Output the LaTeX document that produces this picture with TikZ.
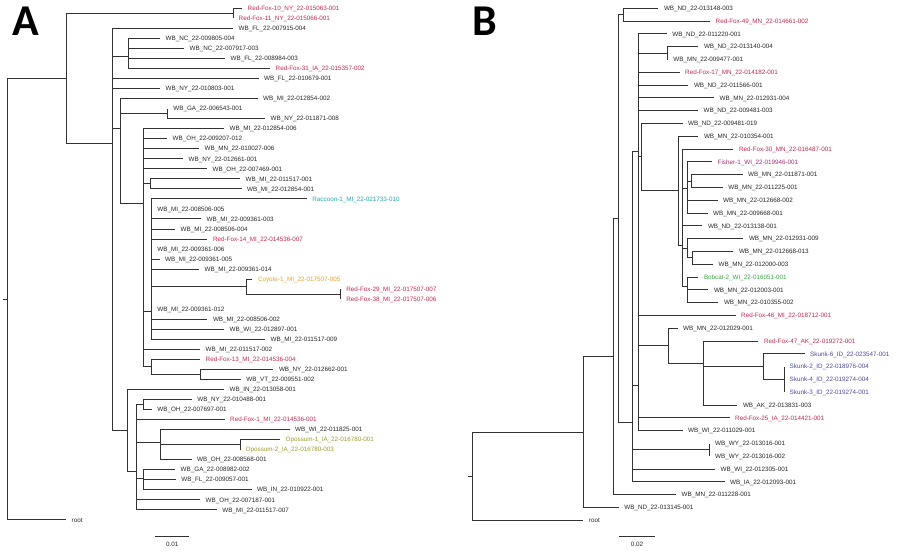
\documentclass[tikz,border=0pt]{standalone}
\usepackage{fontspec}
\setmainfont{Liberation Sans}
\newfontfamily\panelfont{Carlito}
\usetikzlibrary{calc,positioning}

\definecolor{foxred}{RGB}{194,40,78}
\definecolor{raccoon}{RGB}{30,170,175}
\definecolor{coyote}{RGB}{232,160,40}
\definecolor{opossum}{RGB}{155,155,45}
\definecolor{fisher}{RGB}{165,45,120}
\definecolor{bobcat}{RGB}{60,165,70}
\definecolor{skunk}{RGB}{75,75,150}
\definecolor{branch}{RGB}{50,50,50}

\begin{document}
\begin{tikzpicture}[x=1pt,y=-1pt,
  leaf/.style={anchor=west, inner xsep=5.5pt, inner ysep=0pt, text height=4.5pt, text depth=0pt,
    font=\fontsize{6.3}{7}\selectfont, text=black!85},
  br/.style={line width=0.95pt, draw=branch},
  panel/.style={anchor=base west, inner sep=0pt, font=\panelfont\bfseries\fontsize{44}{44}\selectfont}]
  \useasboundingbox (0,0) rectangle (900,552);

  % panel A
  \node[panel] (pA) at (12,35) {A};
  \node[leaf, foxred] (a1) at (242,8.3) {Red-Fox-10\_NY\_22-015063-001};
  \node[leaf, foxred] (a2) at (233,18.3) {Red-Fox-11\_NY\_22-015066-001};
  \node[leaf] (a3) at (233,28.4) {WB\_FL\_22-007915-004};
  \node[leaf] (a4) at (160,38.4) {WB\_NC\_22-009805-004};
  \node[leaf] (a5) at (184,48.4) {WB\_NC\_22-007917-003};
  \node[leaf] (a6) at (225,58.5) {WB\_FL\_22-008984-003};
  \node[leaf, foxred] (a7) at (270,68.5) {Red-Fox-31\_IA\_22-015357-002};
  \node[leaf] (a8) at (258.5,78.5) {WB\_FL\_22-010679-001};
  \node[leaf] (a9) at (160,88.5) {WB\_NY\_22-010803-001};
  \node[leaf] (a10) at (257.5,98.6) {WB\_MI\_22-012854-002};
  \node[leaf] (a11) at (167.7,108.6) {WB\_GA\_22-006543-001};
  \node[leaf] (a12) at (265,118.6) {WB\_NY\_22-011871-008};
  \node[leaf] (a13) at (224,128.7) {WB\_MI\_22-012854-006};
  \node[leaf] (a14) at (167,138.7) {WB\_OH\_22-009207-012};
  \node[leaf] (a15) at (199,148.7) {WB\_MN\_22-010027-006};
  \node[leaf] (a16) at (183,158.8) {WB\_NY\_22-012661-001};
  \node[leaf] (a17) at (207,168.8) {WB\_OH\_22-007469-001};
  \node[leaf] (a18) at (240,178.8) {WB\_MI\_22-011517-001};
  \node[leaf] (a19) at (241.5,188.8) {WB\_MI\_22-012854-001};
  \node[leaf, raccoon] (a20) at (306.7,198.9) {Raccoon-1\_MI\_22-021733-010};
  \node[leaf] (a21) at (151.7,208.9) {WB\_MI\_22-008506-005};
  \node[leaf] (a22) at (201,218.9) {WB\_MI\_22-009361-003};
  \node[leaf] (a23) at (175,229) {WB\_MI\_22-008506-004};
  \node[leaf, foxred] (a24) at (207.3,239) {Red-Fox-14\_MI\_22-014536-007};
  \node[leaf] (a25) at (151.7,249) {WB\_MI\_22-009361-006};
  \node[leaf] (a26) at (159.5,259.1) {WB\_MI\_22-009361-005};
  \node[leaf] (a27) at (199,269.1) {WB\_MI\_22-009361-014};
  \node[leaf, coyote] (a28) at (252.3,279.1) {Coyote-1\_MI\_22-017507-005};
  \node[leaf, foxred] (a29) at (340.7,289.1) {Red-Fox-29\_MI\_22-017507-007};
  \node[leaf, foxred] (a30) at (340.7,299.2) {Red-Fox-38\_MI\_22-017507-006};
  \node[leaf] (a31) at (151.7,309.2) {WB\_MI\_22-009361-012};
  \node[leaf] (a32) at (207.3,319.2) {WB\_MI\_22-008506-002};
  \node[leaf] (a33) at (224,329.3) {WB\_WI\_22-012897-001};
  \node[leaf] (a34) at (265,339.3) {WB\_MI\_22-011517-009};
  \node[leaf] (a35) at (200,349.3) {WB\_MI\_22-011517-002};
  \node[leaf, foxred] (a36) at (200,359.4) {Red-Fox-13\_MI\_22-014536-004};
  \node[leaf] (a37) at (273.3,369.4) {WB\_NY\_22-012662-001};
  \node[leaf] (a38) at (240.7,379.4) {WB\_VT\_22-009551-002};
  \node[leaf] (a39) at (224,389.4) {WB\_IN\_22-013058-001};
  \node[leaf] (a40) at (191.7,399.5) {WB\_NY\_22-010488-001};
  \node[leaf] (a41) at (151.7,409.5) {WB\_OH\_22-007697-001};
  \node[leaf, foxred] (a42) at (224.5,419.5) {Red-Fox-1\_MI\_22-014536-001};
  \node[leaf] (a43) at (289.5,429.6) {WB\_WI\_22-011825-001};
  \node[leaf, opossum] (a44) at (280,439.6) {Opossum-1\_IA\_22-016780-001};
  \node[leaf, opossum] (a45) at (240,449.6) {Opossum-2\_IA\_22-016780-003};
  \node[leaf] (a46) at (191.5,459.7) {WB\_OH\_22-008568-001};
  \node[leaf] (a47) at (175,469.7) {WB\_GA\_22-008982-002};
  \node[leaf] (a48) at (175.7,479.7) {WB\_FL\_22-009057-001};
  \node[leaf] (a49) at (251.5,489.7) {WB\_IN\_22-010922-001};
  \node[leaf] (a50) at (200,499.8) {WB\_OH\_22-007187-001};
  \node[leaf] (a51) at (216.7,509.8) {WB\_MI\_22-011517-007};
  \node[leaf] (a52) at (66,519.8) {root};

  \coordinate (iastub) at (3,299);
  \coordinate (ia0) at (7,299);
  \coordinate (iaT) at (66.5,78.4);
  \coordinate (iaRF) at (233,13.3);
  \coordinate (iaM) at (112,143.3);
  \coordinate (iaNC) at (128,56.7);
  \coordinate (iaB) at (120,128.3);
  \coordinate (iaGA) at (167.7,113.6);
  \coordinate (iaC) at (143.3,203.3);
  \coordinate (iaMI) at (150.5,183.8);
  \coordinate (iaR) at (151.7,311.7);
  \coordinate (iaCoy) at (246.7,286.7);
  \coordinate (iaRF29) at (340.7,294.2);
  \coordinate (iaRF13) at (151.7,366.9);
  \coordinate (iaNV) at (200,374.4);
  \coordinate (iaL) at (127.5,430);
  \coordinate (iaL2) at (136,471);
  \coordinate (iaNO) at (143.3,404.5);
  \coordinate (iaWI) at (160,442);
  \coordinate (iaOp) at (240,444.6);
  \coordinate (iaGF) at (143.3,478);

  \draw[br] (iastub) -- (ia0);
  \foreach \c in {iaT,a52} \draw[br] (ia0) |- (\c);
  \foreach \c in {iaRF,iaM} \draw[br] (iaT) |- (\c);
  \foreach \c in {a1,a2} \draw[br] (iaRF) |- (\c);
  \foreach \c in {a3,iaNC,a8,a9,iaB,iaL} \draw[br] (iaM) |- (\c);
  \foreach \c in {a4,a5,a6,a7} \draw[br] (iaNC) |- (\c);
  \foreach \c in {a10,iaGA,iaC} \draw[br] (iaB) |- (\c);
  \foreach \c in {a11,a12} \draw[br] (iaGA) |- (\c);
  \foreach \c in {a13,a14,a15,a16,a17,iaMI,iaR,a35,iaRF13} \draw[br] (iaC) |- (\c);
  \foreach \c in {a18,a19} \draw[br] (iaMI) |- (\c);
  \foreach \c in {a20,a21,a22,a23,a24,a25,a26,a27,iaCoy,a31,a32,a33,a34} \draw[br] (iaR) |- (\c);
  \foreach \c in {a28,iaRF29} \draw[br] (iaCoy) |- (\c);
  \foreach \c in {a29,a30} \draw[br] (iaRF29) |- (\c);
  \foreach \c in {a36,iaNV} \draw[br] (iaRF13) |- (\c);
  \foreach \c in {a37,a38} \draw[br] (iaNV) |- (\c);
  \foreach \c in {a39,iaL2} \draw[br] (iaL) |- (\c);
  \foreach \c in {iaNO,a42,iaWI,iaGF,a50,a51} \draw[br] (iaL2) |- (\c);
  \foreach \c in {a40,a41} \draw[br] (iaNO) |- (\c);
  \foreach \c in {a43,iaOp,a46} \draw[br] (iaWI) |- (\c);
  \foreach \c in {a44,a45} \draw[br] (iaOp) |- (\c);
  \foreach \c in {a47,a48,a49} \draw[br] (iaGF) |- (\c);

  \coordinate (sa1) at (155,536);
  \coordinate (sa2) at (189.3,536);
  \coordinate (sam) at ($(sa1)!0.5!(sa2)$);
  \draw[br] (sa1) -- (sa2);
  \node[leaf, inner sep=0pt, below=5.5pt of sam] (sal) {0.01};

  % panel B
  \node[panel] (pB) at (472,35) {B};
  \node[leaf] (b1) at (658.3,8.3) {WB\_ND\_22-013148-003};
  \node[leaf, foxred] (b2) at (710,21.1) {Red-Fox-49\_MN\_22-014661-002};
  \node[leaf] (b3) at (666.7,33.9) {WB\_ND\_22-011220-001};
  \node[leaf] (b4) at (698.3,46.7) {WB\_ND\_22-013140-004};
  \node[leaf] (b5) at (667.7,59.5) {WB\_MN\_22-009477-001};
  \node[leaf, foxred] (b6) at (679.5,72.3) {Red-Fox-17\_MN\_22-014182-001};
  \node[leaf] (b7) at (688.3,85.1) {WB\_ND\_22-011566-001};
  \node[leaf] (b8) at (714,97.9) {WB\_MN\_22-012931-004};
  \node[leaf] (b9) at (698,110.7) {WB\_ND\_22-009481-003};
  \node[leaf] (b10) at (682.5,123.5) {WB\_ND\_22-009481-019};
  \node[leaf] (b11) at (698.3,136.3) {WB\_MN\_22-010354-001};
  \node[leaf, foxred] (b12) at (733.3,149.1) {Red-Fox-30\_MN\_22-016487-001};
  \node[leaf, fisher] (b13) at (712,161.9) {Fisher-1\_WI\_22-019946-001};
  \node[leaf] (b14) at (742.5,174.7) {WB\_MN\_22-011871-001};
  \node[leaf] (b15) at (722.7,187.5) {WB\_MN\_22-011225-001};
  \node[leaf] (b16) at (717.5,200.3) {WB\_MN\_22-012668-002};
  \node[leaf] (b17) at (707.5,213.1) {WB\_MN\_22-009668-001};
  \node[leaf] (b18) at (702.3,225.9) {WB\_ND\_22-013138-001};
  \node[leaf] (b19) at (743.3,238.7) {WB\_MN\_22-012931-009};
  \node[leaf] (b20) at (733.3,251.5) {WB\_MN\_22-012668-013};
  \node[leaf] (b21) at (713,264.3) {WB\_MN\_22-012000-003};
  \node[leaf, bobcat] (b22) at (698.3,277.1) {Bobcat-2\_WI\_22-016051-001};
  \node[leaf] (b23) at (708.3,289.9) {WB\_MN\_22-012003-001};
  \node[leaf] (b24) at (718.3,302.7) {WB\_MN\_22-010355-002};
  \node[leaf, foxred] (b25) at (735.5,315.5) {Red-Fox-46\_MI\_22-018712-001};
  \node[leaf] (b26) at (677.5,328.3) {WB\_MN\_22-012029-001};
  \node[leaf, foxred] (b27) at (758.3,341.1) {Red-Fox-47\_AK\_22-019272-001};
  \node[leaf, skunk] (b28) at (804.5,353.9) {Skunk-6\_ID\_22-023547-001};
  \node[leaf, skunk] (b29) at (784,366.7) {Skunk-2\_ID\_22-018976-004};
  \node[leaf, skunk] (b30) at (784,379.5) {Skunk-4\_ID\_22-019274-004};
  \node[leaf, skunk] (b31) at (784,392.3) {Skunk-3\_ID\_22-019274-001};
  \node[leaf] (b32) at (737.3,405.1) {WB\_AK\_22-013831-003};
  \node[leaf, foxred] (b33) at (729.5,417.9) {Red-Fox-25\_IA\_22-014421-001};
  \node[leaf] (b34) at (682.5,430.7) {WB\_WI\_22-011029-001};
  \node[leaf] (b35) at (709.5,443.5) {WB\_WY\_22-013016-001};
  \node[leaf] (b36) at (709.5,456.3) {WB\_WY\_22-013016-002};
  \node[leaf] (b37) at (715,469.1) {WB\_WI\_22-012305-001};
  \node[leaf] (b38) at (724.5,481.9) {WB\_IA\_22-012093-001};
  \node[leaf] (b39) at (676,494.7) {WB\_MN\_22-011228-001};
  \node[leaf] (b40) at (618.7,507.5) {WB\_ND\_22-013145-001};
  \node[leaf] (b41) at (583.3,520.3) {root};

  \coordinate (ibstub) at (468.3,476.2);
  \coordinate (ib0) at (472.7,476.2);
  \coordinate (ib1) at (583.3,432.1);
  \coordinate (ib2) at (613.3,356.7);
  \coordinate (ib3) at (618.3,218.7);
  \coordinate (ib4) at (623,14.7);
  \coordinate (ibQ) at (632.7,422.7);
  \coordinate (ibS1) at (638,151.7);
  \coordinate (ibS2) at (638,385);
  \coordinate (ibT) at (641.7,156.7);
  \coordinate (ibU) at (678.3,190.7);
  \coordinate (ibU2) at (682.7,245);
  \coordinate (ibF) at (687.3,188);
  \coordinate (ibF2) at (691.7,181.1);
  \coordinate (ibG) at (687.3,248.3);
  \coordinate (ibG2) at (692,257.9);
  \coordinate (ibBob) at (687.3,286.7);
  \coordinate (ib45) at (667.7,53.1);
  \coordinate (ibX) at (668.3,345.9);
  \coordinate (ibY) at (703.3,363.5);
  \coordinate (ibZ) at (763.3,366.7);
  \coordinate (ibZ2) at (784,379.5);
  \coordinate (ibWY) at (709.5,449.9);

  \draw[br] (ibstub) -- (ib0);
  \foreach \c in {ib1,b41} \draw[br] (ib0) |- (\c);
  \foreach \c in {ib2,b40} \draw[br] (ib1) |- (\c);
  \foreach \c in {ib3,b39} \draw[br] (ib2) |- (\c);
  \foreach \c in {ib4,ibQ} \draw[br] (ib3) |- (\c);
  \foreach \c in {b1,b2} \draw[br] (ib4) |- (\c);
  \foreach \c in {ibS1,ibS2,ibWY,b37,b38} \draw[br] (ibQ) |- (\c);
  \foreach \c in {b3,ib45,b6,b7,b8,b9,ibT,ibS2} \draw[br] (ibS1) |- (\c);
  \foreach \c in {b25,ibX,b33,b34} \draw[br] (ibS2) |- (\c);
  \foreach \c in {b10,ibU} \draw[br] (ibT) |- (\c);
  \foreach \c in {b11,ibU2} \draw[br] (ibU) |- (\c);
  \foreach \c in {b12,ibF,b18,ibG,ibBob} \draw[br] (ibU2) |- (\c);
  \foreach \c in {b13,ibF2,b16,b17} \draw[br] (ibF) |- (\c);
  \foreach \c in {b14,b15} \draw[br] (ibF2) |- (\c);
  \foreach \c in {b19,ibG2} \draw[br] (ibG) |- (\c);
  \foreach \c in {b20,b21} \draw[br] (ibG2) |- (\c);
  \foreach \c in {b22,b23,b24} \draw[br] (ibBob) |- (\c);
  \foreach \c in {b4,b5} \draw[br] (ib45) |- (\c);
  \foreach \c in {b26,ibY} \draw[br] (ibX) |- (\c);
  \foreach \c in {b27,ibZ,b32} \draw[br] (ibY) |- (\c);
  \foreach \c in {b28,ibZ2} \draw[br] (ibZ) |- (\c);
  \foreach \c in {b29,b30,b31} \draw[br] (ibZ2) |- (\c);
  \foreach \c in {b35,b36} \draw[br] (ibWY) |- (\c);

  \coordinate (sb1) at (619,536);
  \coordinate (sb2) at (655,536);
  \coordinate (sbm) at ($(sb1)!0.5!(sb2)$);
  \draw[br] (sb1) -- (sb2);
  \node[leaf, inner sep=0pt, below=5.5pt of sbm] (sbl) {0.02};
\end{tikzpicture}
\end{document}
